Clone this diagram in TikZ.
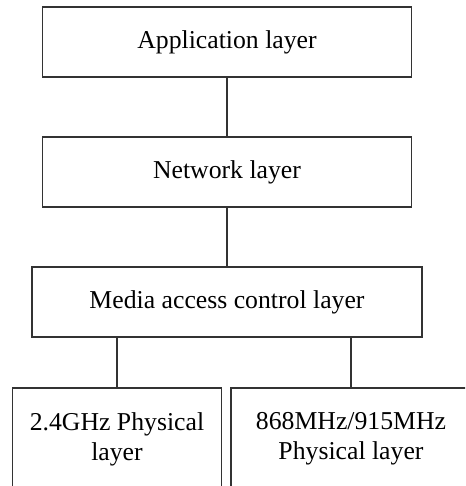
\documentclass[tikz,border=0pt]{standalone}
\usepackage{fontspec}
\setmainfont{Liberation Serif}
\usepackage{tikz}
\usetikzlibrary{positioning}

\begin{document}
\begin{tikzpicture}[
    layer/.style={rectangle, draw=black!80, line width=0.8pt, align=center,
                  font=\fontsize{18.3}{21.3}\selectfont, inner sep=0pt},
    link/.style={draw=black!80, line width=0.8pt}
]
% --- Frame (the picture is cut off at the bottom and right) ---
\useasboundingbox (0,0) rectangle (11.625,-12.15);
\clip (0,0) rectangle (11.625,-12.15);

% --- Stack of layers ---
\node[layer, minimum width=9.225cm, minimum height=1.75cm] (app) at (5.675,-1.05)  {Application layer};
\node[layer, minimum width=9.225cm, minimum height=1.75cm] (net) at (5.675,-4.3)   {Network layer};
\node[layer, minimum width=9.75cm,  minimum height=1.75cm] (mac) at (5.675,-7.55)  {Media access control layer};

% --- Two physical layers (bottom row) ---
\node[layer, minimum width=5.225cm, minimum height=2.55cm] (phya) at (2.925,-10.975) {2.4GHz Physical\\layer};
\node[layer, minimum width=6.0cm,   minimum height=2.55cm] (phyb) at (8.775,-10.975) {868MHz/915MHz\\Physical layer};

% --- Connectors ---
\draw[link] (app) -- (net);
\draw[link] (net) -- (mac);
\draw[link] (phya.north) -- (phya.north |- mac.south);
\draw[link] (phyb.north) -- (phyb.north |- mac.south);
\end{tikzpicture}
\end{document}
